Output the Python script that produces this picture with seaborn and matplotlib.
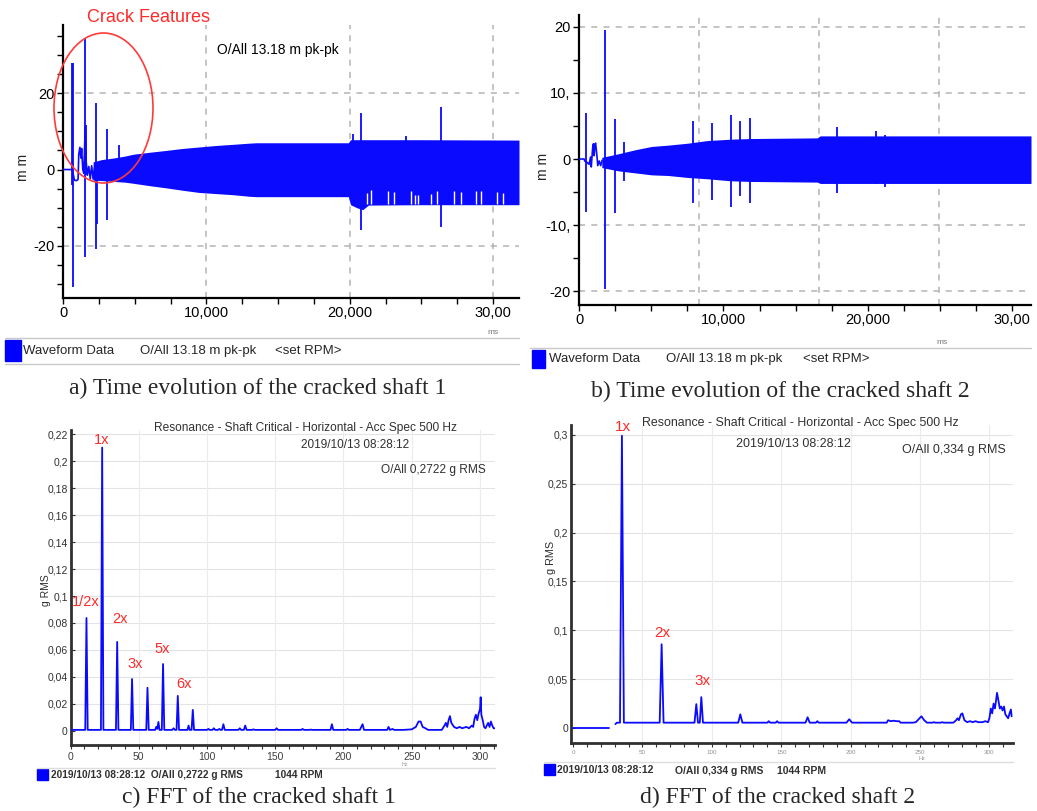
import matplotlib
matplotlib.use("Agg")
import matplotlib.pyplot as plt
import seaborn as sns
from matplotlib.patches import Ellipse, Rectangle
from matplotlib.lines import Line2D

# ---------------- data ----------------
# Panel a: waveform of cracked shaft 1 (ms, mm)
a_pre_t = [0, 620, 700, 800, 950, 1050, 1100, 1180, 1250, 1300, 1380, 1450, 1550, 1620, 1700, 1800, 1900, 2000, 2100, 2200]
a_pre_v = [0, 0, -1.0, -2.8, -2.9, -2.6, 4.0, 5.8, 3.0, 5.5, 0, -1.0, 11.2, 2.0, -1.5, 0.8, -2.4, 1.0, -2.5, 0.5]
a_env_t = [2100, 2700, 3500, 4300, 4900, 6000, 7200, 8300, 9500, 10700, 11900, 13000, 13500, 16000, 19900, 20050, 20500, 20900, 21300, 25000, 31800]
a_env_hi = [2.0, 2.6, 3.0, 3.5, 4.0, 4.5, 5.0, 5.5, 5.9, 6.3, 6.6, 6.9, 7.0, 7.0, 7.0, 7.8, 7.8, 7.8, 7.8, 7.8, 7.7]
a_env_lo = [-2.8, -2.9, -3.1, -3.3, -3.6, -4.2, -4.8, -5.4, -6.0, -6.3, -6.6, -7.0, -7.1, -7.1, -7.1, -9.2, -10.0, -10.5, -9.3, -9.2, -9.2]
a_spk_t = [650, 720, 1510, 1590, 2330, 2400, 3090, 3880, 20250, 20760, 23950, 26390]
a_spk_hi = [27.8, 27.8, 34.1, 11.6, 17.5, 1.5, 10.7, 6.3, 9.4, 14.9, 8.7, 16.3]
a_spk_lo = [-4.0, -30.8, -23.0, -1.5, -20.9, -14.3, -13.3, -2.0, -9.0, -15.9, -9.2, -15.1]
a_notch_t = [21220, 21500, 22650, 23070, 24240, 24580, 24740, 25680, 26070, 27300, 27770, 28810, 29160, 30280, 30670]
a_notch_hi = [-6.2, -5.4, -5.5, -6.0, -5.6, -6.6, -6.6, -6.3, -5.6, -5.5, -6.0, -5.5, -5.6, -5.9, -6.1]
a_notch_lo = [-9.1, -9.1, -9.1, -9.1, -9.1, -9.1, -9.1, -9.1, -9.1, -9.1, -9.1, -9.1, -9.1, -9.1, -9.1]
a_xticks = [0, 10000, 20000, 30000]
a_xticklabels = ["0", "10,000", "20,000", "30,00"]
a_yticks = [20, 0, -20]
a_yticklabels = ["20", "0", "-20"]
a_grid_x = [10000, 20000, 30000]
a_grid_y = [20, -20]

# Panel b: waveform of cracked shaft 2 (ms, mm)
b_pre_t = [0, 350, 400, 550, 700, 800, 850, 950, 1000, 1050, 1100, 1150, 1250, 1300, 1400, 1500, 1600]
b_pre_v = [0, 0, -0.3, -0.5, -0.8, 0.3, -1.2, 1.8, 2.3, 0.5, 2.2, 2.4, 0.3, -1.0, -0.3, -1.0, -0.2]
b_env_t = [1580, 2740, 3890, 5030, 6180, 7550, 8920, 10500, 11900, 16500, 16700, 31300]
b_env_hi = [0.25, 0.8, 1.4, 1.9, 2.1, 2.4, 2.8, 3.0, 3.1, 3.2, 3.5, 3.5]
b_env_lo = [-1.3, -1.8, -2.1, -2.4, -2.5, -2.8, -3.0, -3.3, -3.4, -3.5, -3.7, -3.7]
b_spk_t = [460, 1830, 2470, 3150, 7890, 9220, 10500, 11150, 11830, 17870, 20600, 21220]
b_spk_hi = [6.9, 19.5, 6.0, 2.5, 5.8, 5.4, 6.6, 5.7, 6.2, 4.9, 4.3, 3.6]
b_spk_lo = [-8.0, -19.7, -8.1, -3.3, -6.6, -6.2, -7.2, -5.6, -6.7, -5.1, -3.8, -4.3]
b_xticks = [0, 10000, 20000, 30000]
b_xticklabels = ["0", "10,000", "20,000", "30,00"]
b_yticks = [20, 10, 0, -10, -20]
b_yticklabels = ["20", "10,", "0", "-10,", "-20"]
b_grid_x = [8300, 16600, 24900]
b_grid_y = [20, 10, -10, -20]

# Panel c: FFT of cracked shaft 1 (Hz, g RMS)
c_freq = [
    0, 10.8, 11.7, 12.6,
    22.3, 23.2, 24.1,
    33.3, 34.2, 35.1,
    44.2, 45.1, 46.0,
    55.5, 56.4, 57.3,
    62.0, 62.8, 63.6, 64.4, 65.2,
    66.9, 67.8, 68.7,
    74.5, 75.5, 76.5,
    77.7, 78.6, 79.5,
    85.7, 86.5, 87.3,
    88.7, 89.6, 90.5,
    100, 101, 102, 104, 105, 106, 108, 109, 110, 111, 112, 113,
    123, 124, 125, 127, 128, 129, 133, 134, 135,
    150, 151, 152, 169, 170, 171, 175, 176, 177,
    190.5, 191.5, 192.5, 202, 203, 204,
    212, 213, 214, 215, 232, 233, 234, 236, 237,
    244, 250, 253, 255, 256.5, 258, 260, 262,
    272, 274, 275, 276, 277, 278, 279, 281, 283, 285,
    287, 290, 292, 294, 295, 296, 297, 298, 299, 300,
    300.5, 301, 302, 303, 304, 305, 306, 307, 308, 309, 310, 311]
c_amp = [
    .0008, .0008, .0837, .0008,
    .0008, .210, .0008,
    .0008, .066, .0008,
    .0008, .0385, .0008,
    .0008, .032, .0008,
    .0008, .003, .0015, .0067, .0008,
    .0008, .0496, .0008,
    .0008, .002, .0008,
    .0008, .026, .0008,
    .0008, .004, .0008,
    .0008, .0156, .0008,
    .0008, .0015, .0008, .0008, .002, .0008, .0008, .0015, .0008, .0008, .005, .0008,
    .0008, .002, .0008, .0008, .004, .0008, .0008, .0012, .0008,
    .0008, .002, .0008, .0008, .0015, .0008, .0008, .001, .0008,
    .0008, .005, .0008, .0008, .0015, .0008,
    .0008, .003, .005, .0008, .0008, .003, .0008, .0015, .0008,
    .0008, .0012, .003, .007, .007, .003, .002, .0008,
    .0008, .004, .006, .003, .008, .011, .006, .003, .002, .003,
    .002, .003, .002, .004, .003, .009, .012, .008, .013, .016,
    .025, .012, .008, .003, .002, .004, .006, .003, .007, .004, .002, .002]
c_xticks = [0, 50, 100, 150, 200, 250, 300]
c_yticks = [0, 0.02, 0.04, 0.06, 0.08, 0.1, 0.12, 0.14, 0.16, 0.18, 0.2, 0.22]
c_yticklabels = ["0", "0,02", "0,04", "0,06", "0,08", "0,1", "0,12", "0,14", "0,16", "0,18", "0,2", "0,22"]
c_harm_labels = ["1x", "1/2x", "2x", "3x", "5x", "6x"]
c_harm_freq = [23.2, 11.7, 34.2, 45.1, 67.8, 78.6]
c_harm_amp = [0.210, 0.0837, 0.066, 0.0385, 0.0496, 0.026]

# Panel d: FFT of cracked shaft 2 (Hz, g RMS)
d_pre_freq = [0, 25.7]
d_pre_amp = [0, 0]
d_freq = [
    30.5, 31.5, 33.8, 35.2, 36.6,
    62.4, 63.8, 65.2,
    87.5, 88.8, 90.0, 91.3, 92.4, 93.6,
    119, 120.5, 122,
    140, 141, 142, 146, 147, 148,
    167.5, 169, 170.5, 175, 176, 177,
    197, 199, 201,
    226, 227, 229, 231, 233, 235, 236,
    245, 247, 249, 251, 253, 255,
    259, 260, 261, 265, 266, 267,
    274, 276, 277, 278, 279.5, 280.5, 282, 284, 286, 288,
    290, 292, 295, 297, 299, 300, 301, 302, 303, 304,
    305.5, 306.5, 307.5, 308.5, 309.5, 310.5, 311.5, 312.5, 313.5, 314.5, 315.5, 316]
d_amp = [
    .004, .0055, .0055, .299, .0055,
    .0055, .0857, .0055,
    .0055, .0245, .0055, .0055, .0316, .0055,
    .0055, .014, .0055,
    .0055, .007, .0055, .0055, .007, .0055,
    .0055, .011, .0055, .0055, .007, .0055,
    .0055, .009, .0055,
    .0055, .008, .007, .0075, .007, .007, .0055,
    .0055, .006, .009, .012, .008, .0055,
    .0055, .006, .0055, .0055, .006, .0055,
    .0055, .008, .01, .008, .014, .015, .008, .006, .007, .006,
    .007, .006, .006, .007, .006, .01, .02, .015, .025, .02,
    .036, .028, .02, .022, .018, .022, .014, .012, .01, .015, .019, .012]
d_xticks = [0, 50, 100, 150, 200, 250, 300]
d_yticks = [0, 0.05, 0.1, 0.15, 0.2, 0.25, 0.3]
d_yticklabels = ["0", "0,05", "0,1", "0,15", "0,2", "0,25", "0,3"]
d_harm_labels = ["1x", "2x", "3x"]
d_harm_freq = [35.2, 63.8, 92.4]
d_harm_amp = [0.299, 0.0857, 0.0316]

# ---------------- figure ----------------
W, H = 1037, 811
sns.set_theme(style="white")
plt.rcParams['font.family'] = ['Liberation Sans', 'DejaVu Sans']
BLUE = "#0a0aff"
RED = "#ff2a2a"

fig = plt.figure(figsize=(W / 100, H / 100), dpi=100)
fig.patch.set_facecolor("white")


def add_ax(l, t, r, b):
    return fig.add_axes([l / W, 1 - b / H, (r - l) / W, (b - t) / H])


def style_wave(ax, xlim, ylim, xt, xtl, yt, ytl, gx, gy):
    ax.set_xlim(*xlim)
    ax.set_ylim(*ylim)
    ax.set_facecolor("white")
    for s in ["top", "right"]:
        ax.spines[s].set_visible(False)
    for s in ["left", "bottom"]:
        ax.spines[s].set_color("black")
        ax.spines[s].set_linewidth(1.6)
    ax.set_xticks(xt)
    ax.set_xticklabels(xtl)
    ax.set_xticks(range(0, int(xlim[1]), 2500), minor=True)
    ax.set_yticks(yt)
    ax.set_yticklabels(ytl)
    ax.tick_params(which="both", direction="out", length=4, width=1, color="black",
                   labelsize=10.5, labelcolor="black", pad=2, bottom=True, left=True)
    for g in gx:
        ax.axvline(g, color="#b4b4b4", lw=1.1, ls=(0, (4, 4)), zorder=0)
    for g in gy:
        ax.axhline(g, color="#b4b4b4", lw=1.1, ls=(0, (4, 4)), zorder=0)
    ax.set_xlabel("")
    ax.set_ylabel("")


# ---- panel a ----
axA = add_ax(63, 25, 519, 298)
style_wave(axA, (0, 31800), (-33.6, 37.8), a_xticks, a_xticklabels, a_yticks, a_yticklabels, a_grid_x, a_grid_y)
axA.set_yticks([-30, -25, -15, -10, -5, 5, 10, 15, 25, 30, 35], minor=True)
axA.fill_between(a_env_t, a_env_lo, a_env_hi, color=BLUE, lw=0, zorder=2)
sns.lineplot(x=a_pre_t, y=a_pre_v, ax=axA, color=BLUE, lw=1.2, estimator=None, sort=False, zorder=3)
axA.vlines(a_spk_t, a_spk_lo, a_spk_hi, color=BLUE, lw=1.3, zorder=3)
axA.vlines(a_notch_t, a_notch_lo, a_notch_hi, color="white", lw=1.0, zorder=4)
axA.set_xlabel("")
axA.set_ylabel("")

# ---- panel b ----
axB = add_ax(579, 15, 1031, 305)
style_wave(axB, (0, 31300), (-22.1, 21.8), b_xticks, b_xticklabels, b_yticks, b_yticklabels, b_grid_x, b_grid_y)
axB.set_yticks([-15, -5, 5, 15], minor=True)
axB.fill_between(b_env_t, b_env_lo, b_env_hi, color=BLUE, lw=0, zorder=2)
sns.lineplot(x=b_pre_t, y=b_pre_v, ax=axB, color=BLUE, lw=1.2, estimator=None, sort=False, zorder=3)
axB.vlines(b_spk_t, b_spk_lo, b_spk_hi, color=BLUE, lw=1.3, zorder=3)
axB.set_xlabel("")
axB.set_ylabel("")


def style_fft(ax, xlim, ylim, xt, yt, ytl, xlab_size, xlab_color):
    ax.set_xlim(*xlim)
    ax.set_ylim(*ylim)
    ax.set_facecolor("white")
    for s in ["top", "right"]:
        ax.spines[s].set_visible(False)
    for s in ["left", "bottom"]:
        ax.spines[s].set_color("#303030")
        ax.spines[s].set_linewidth(2)
    ax.set_xticks(xt)
    ax.set_xticklabels([str(v) for v in xt])
    ax.set_xticks(range(0, int(xlim[1]) + 1, 10), minor=True)
    ax.set_yticks(yt)
    ax.set_yticklabels(ytl)
    ax.tick_params(axis="x", which="both", direction="out", length=3, width=0.8, color="#303030",
                   labelsize=xlab_size, labelcolor=xlab_color, pad=2, bottom=True)
    ax.tick_params(axis="y", which="both", direction="in", length=3, width=0.8, color="#303030",
                   labelsize=7.5, labelcolor="#303030", pad=2, left=True)
    for g in yt[1:]:
        ax.axhline(g, color="#e4e4e4", lw=0.8, zorder=0)
    for g in xt[1:]:
        ax.axvline(g, color="#ececec", lw=0.8, zorder=0)
    ax.set_xlabel("")
    ax.set_ylabel("")


# ---- panel c ----
axC = add_ax(70.5, 430, 495, 745)
style_fft(axC, (0, 311), (-0.0104, 0.223), c_xticks, c_yticks, c_yticklabels, 7.5, "#404040")
sns.lineplot(x=c_freq, y=c_amp, ax=axC, color=BLUE, lw=1.3, estimator=None, sort=False, zorder=3)
axC.set_xlabel("")
axC.set_ylabel("")
c_offsets = [(-0.1, 0.0058), (-0.4, 0.0118), (2.0, 0.017), (2.5, 0.011), (-0.5, 0.011), (4.3, 0.0088)]
for lab, f, a, (dx, dy) in zip(c_harm_labels, c_harm_freq, c_harm_amp, c_offsets):
    axC.text(f + dx, a + dy, lab, color=RED, fontsize=10.5, ha="center", va="center", zorder=5)

# ---- panel d ----
axD = add_ax(571, 425, 1013, 743)
style_fft(axD, (-1.5, 317), (-0.0153, 0.310), d_xticks, d_yticks, d_yticklabels, 4.5, "#909090")
sns.lineplot(x=d_pre_freq, y=d_pre_amp, ax=axD, color=BLUE, lw=1.3, estimator=None, sort=False, zorder=3)
sns.lineplot(x=d_freq, y=d_amp, ax=axD, color=BLUE, lw=1.3, estimator=None, sort=False, zorder=3)
axD.set_xlabel("")
axD.set_ylabel("")
d_offsets = [(0.4, 0.009), (0.3, 0.012), (1.2, 0.017)]
for lab, f, a, (dx, dy) in zip(d_harm_labels, d_harm_freq, d_harm_amp, d_offsets):
    axD.text(f + dx, a + dy, lab, color=RED, fontsize=11, ha="center", va="center", zorder=5)

# ---------------- overlay (pixel coordinates) ----------------
ov = fig.add_axes([0, 0, 1, 1], zorder=10)
ov.set_xlim(0, W)
ov.set_ylim(H, 0)
ov.axis("off")
ov.patch.set_alpha(0)


def txt(x, y, s, **kw):
    kw.setdefault("va", "center")
    kw.setdefault("ha", "left")
    ov.text(x, y, s, **kw)


def hline(x0, x1, y, color="#c8c8c8", lw=1.0):
    ov.add_line(Line2D([x0, x1], [y, y], color=color, lw=lw))


# panel a decorations
txt(87, 18, "Crack Features", color=RED, fontsize=13)
ov.add_patch(Ellipse((103.5, 108), 99, 150, fill=False, edgecolor="#ff3a3a", lw=1.2))
txt(217, 50, "O/All 13.18 m pk-pk", fontsize=10, color="black")
txt(23, 167, "m m", fontsize=10, rotation=90, ha="center")
txt(493, 332, "ms", fontsize=6, color="#777777", ha="center")
hline(5, 519, 338)
hline(5, 519, 364)
ov.add_patch(Rectangle((5, 340), 15.5, 21, color="#0000ff"))
txt(23, 351, "Waveform Data", fontsize=9.5)
txt(140, 351, "O/All 13.18 m pk-pk", fontsize=9.5)
txt(275, 351, "<set RPM>", fontsize=9.5)
txt(258, 388, "a) Time evolution of the cracked shaft 1", fontsize=17, ha="center",
    family=["Liberation Serif", "DejaVu Serif"])

# panel b decorations
txt(543, 166, "m m", fontsize=10, rotation=90, ha="center")
txt(942, 342, "ms", fontsize=6, color="#777777", ha="center")
hline(530, 1031, 348)
ov.add_patch(Rectangle((532, 350), 13, 18, color="#0000ff"))
txt(549, 359, "Waveform Data", fontsize=9.5)
txt(666, 359, "O/All 13.18 m pk-pk", fontsize=9.5)
txt(803, 359, "<set RPM>", fontsize=9.5)
txt(780, 391, "b) Time evolution of the cracked shaft 2", fontsize=17, ha="center",
    family=["Liberation Serif", "DejaVu Serif"])

# panel c decorations
txt(305, 428, "Resonance - Shaft Critical - Horizontal - Acc Spec 500 Hz", fontsize=8.6, ha="center", color="#303030")
txt(355, 445, "2019/10/13 08:28:12", fontsize=8.5, ha="center", color="#303030")
txt(381, 470, "O/All 0,2722 g RMS", fontsize=8.6, color="#303030")
txt(46, 590, "g RMS", fontsize=7.5, rotation=90, ha="center", color="#303030")
txt(405, 764, "Hz", fontsize=3.8, color="#999999", ha="center")
hline(37, 495, 768, color="#dddddd")
ov.add_patch(Rectangle((37, 769), 10.5, 11, color="#0000ff"))
txt(51, 775, "2019/10/13 08:28:12  O/All 0,2722 g RMS", fontsize=7.3, weight="bold", color="#303030")
txt(275, 775, "1044 RPM", fontsize=7.3, weight="bold", color="#303030")
txt(259, 797, "c) FFT of the cracked shaft 1", fontsize=17, ha="center",
    family=["Liberation Serif", "DejaVu Serif"])

# panel d decorations
txt(800, 423, "Resonance - Shaft Critical - Horizontal - Acc Spec 500 Hz", fontsize=8.9, ha="center", color="#303030")
txt(793, 444, "2019/10/13 08:28:12", fontsize=9, ha="center", color="#303030")
txt(902, 450, "O/All 0,334 g RMS", fontsize=9, color="#303030")
txt(551, 557, "g RMS", fontsize=7.8, rotation=90, ha="center", color="#303030")
txt(922, 759, "Hz", fontsize=4, color="#999999", ha="center")
hline(544, 1013, 762, color="#dddddd")
ov.add_patch(Rectangle((544, 764), 11, 11, color="#0000ff"))
txt(557, 770, "2019/10/13 08:28:12", fontsize=7.5, weight="bold", color="#303030")
txt(675, 771, "O/All 0,334 g RMS", fontsize=7.5, weight="bold", color="#303030")
txt(777, 771, "1044 RPM", fontsize=7.5, weight="bold", color="#303030")
txt(778, 797, "d) FFT of the cracked shaft 2", fontsize=17, ha="center",
    family=["Liberation Serif", "DejaVu Serif"])

fig.savefig("out.png", dpi=100, facecolor="white")
